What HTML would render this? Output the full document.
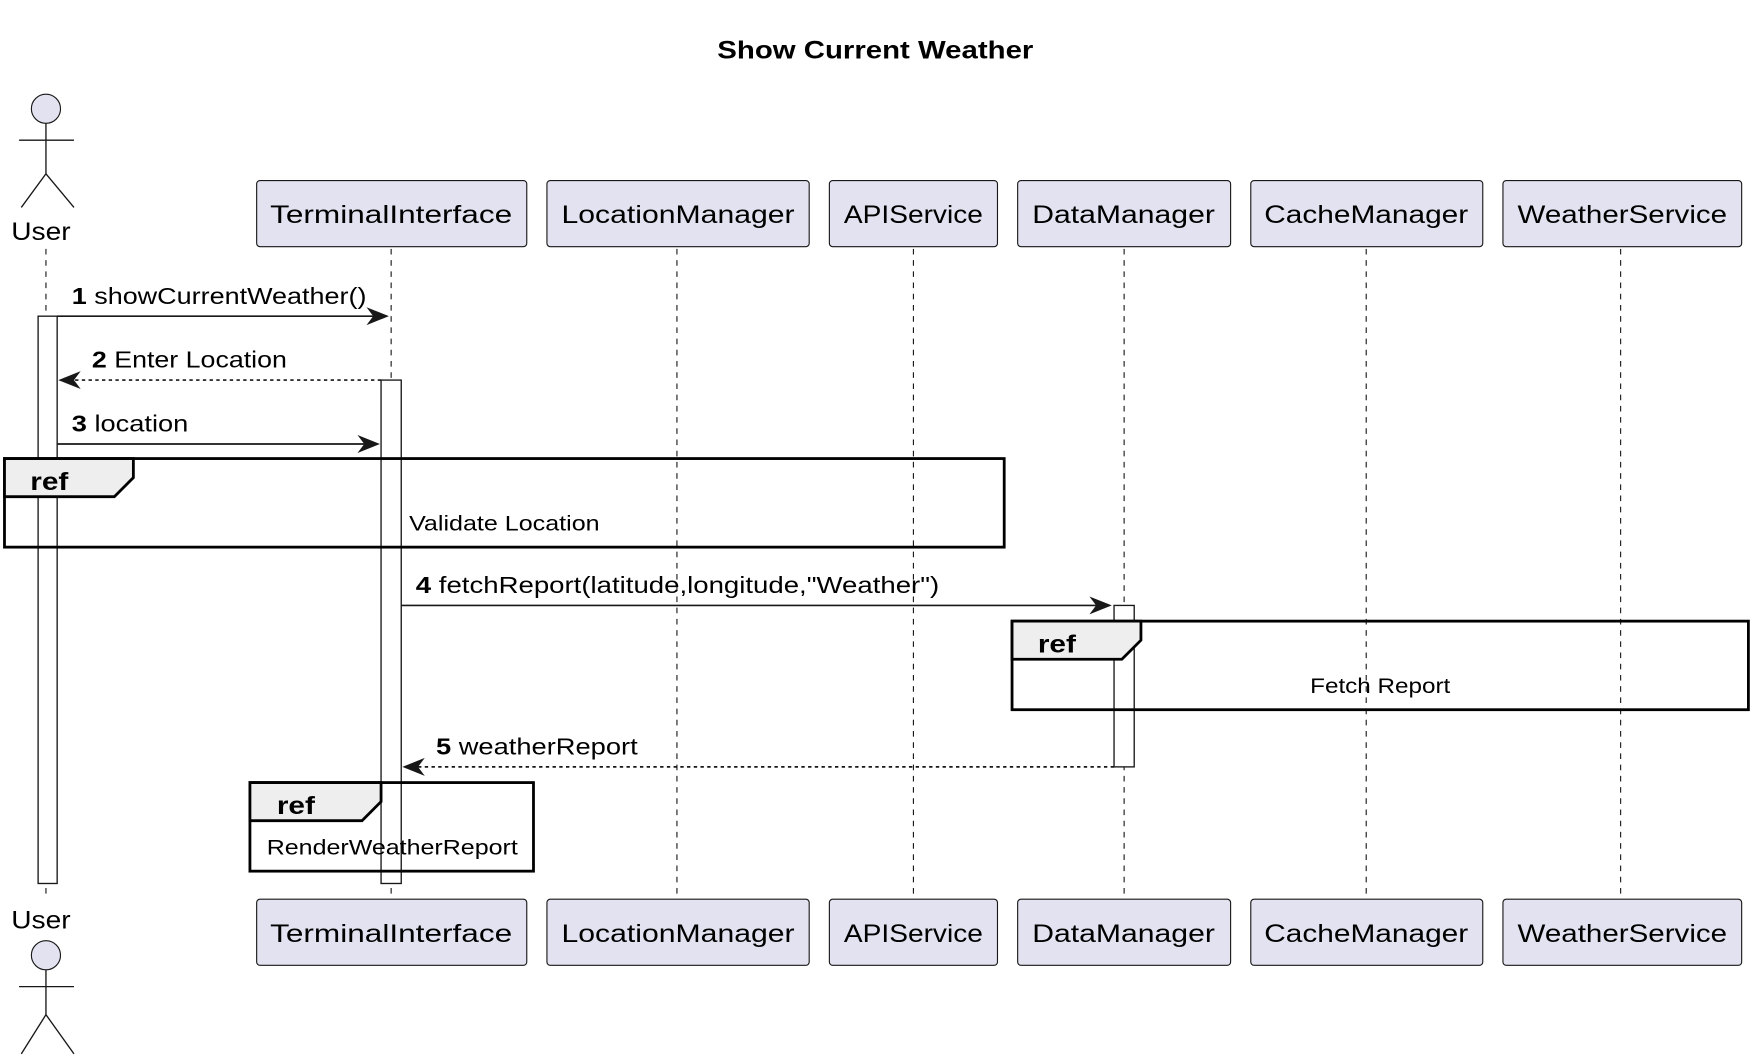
<!DOCTYPE html>
<html><head><meta charset="utf-8"><style>html,body{margin:0;padding:0;background:#fff}svg{display:block}text{font-family:"Liberation Sans","DejaVu Sans",sans-serif;fill:#000}</style></head>
<body>
<svg width="1754" height="1064" viewBox="0 0 1565 949" preserveAspectRatio="none" xmlns="http://www.w3.org/2000/svg">
<text x="640" y="52" font-size="22" font-weight="bold" textLength="282" lengthAdjust="spacingAndGlyphs">Show Current Weather</text>
<g stroke="#181818" stroke-width="1" stroke-dasharray="5,5">
<line x1="41" y1="222" x2="41" y2="800"/><line x1="349" y1="222" x2="349" y2="800"/><line x1="604" y1="222" x2="604" y2="800"/><line x1="815" y1="222" x2="815" y2="800"/><line x1="1003" y1="222" x2="1003" y2="800"/><line x1="1219" y1="222" x2="1219" y2="800"/><line x1="1446" y1="222" x2="1446" y2="800"/>
</g>
<g fill="#e2e2f0" stroke="#181818">
<circle cx="41" cy="97" r="13"/><circle cx="41" cy="852" r="13"/>
</g>
<g stroke="#181818" stroke-width="1.2" fill="none">
<path d="M41 110V155M17 125H66M41 155L19 185M41 155L66 185"/>
<path d="M41 865V905M17 880H66M41 905L19 940M41 905L66 940"/>
</g>
<text x="10" y="214" font-size="22" textLength="53" lengthAdjust="spacingAndGlyphs">User</text>
<text x="10" y="828" font-size="22" textLength="53" lengthAdjust="spacingAndGlyphs">User</text>
<g fill="#e2e2f0" stroke="#181818">
<rect x="229" y="161" width="241" height="59" rx="3"/><rect x="488" y="161" width="234" height="59" rx="3"/><rect x="740" y="161" width="150" height="59" rx="3"/><rect x="908" y="161" width="190" height="59" rx="3"/><rect x="1116" y="161" width="207" height="59" rx="3"/><rect x="1341" y="161" width="213" height="59" rx="3"/>
<rect x="229" y="802" width="241" height="59" rx="3"/><rect x="488" y="802" width="234" height="59" rx="3"/><rect x="740" y="802" width="150" height="59" rx="3"/><rect x="908" y="802" width="190" height="59" rx="3"/><rect x="1116" y="802" width="207" height="59" rx="3"/><rect x="1341" y="802" width="213" height="59" rx="3"/>
</g>
<g font-size="22" lengthAdjust="spacingAndGlyphs">
<text x="241" y="199" textLength="216" lengthAdjust="spacingAndGlyphs">TerminalInterface</text><text x="501" y="199" textLength="208" lengthAdjust="spacingAndGlyphs">LocationManager</text><text x="753" y="199" textLength="124" lengthAdjust="spacingAndGlyphs">APIService</text><text x="921" y="199" textLength="163" lengthAdjust="spacingAndGlyphs">DataManager</text><text x="1128" y="199" textLength="182" lengthAdjust="spacingAndGlyphs">CacheManager</text><text x="1354" y="199" textLength="187" lengthAdjust="spacingAndGlyphs">WeatherService</text>
<text x="241" y="840" textLength="216" lengthAdjust="spacingAndGlyphs">TerminalInterface</text><text x="501" y="840" textLength="208" lengthAdjust="spacingAndGlyphs">LocationManager</text><text x="753" y="840" textLength="124" lengthAdjust="spacingAndGlyphs">APIService</text><text x="921" y="840" textLength="163" lengthAdjust="spacingAndGlyphs">DataManager</text><text x="1128" y="840" textLength="182" lengthAdjust="spacingAndGlyphs">CacheManager</text><text x="1354" y="840" textLength="187" lengthAdjust="spacingAndGlyphs">WeatherService</text>
</g>
<g fill="#fff" stroke="#181818" stroke-width="1.2">
<rect x="34" y="282" width="17" height="506"/>
<rect x="340" y="339" width="18" height="449"/>
<rect x="994" y="540" width="18" height="144"/>
</g>
<g stroke="#181818" stroke-width="1.5" fill="none">
<line x1="51" y1="282" x2="345" y2="282"/>
<line x1="340" y1="339" x2="54" y2="339" stroke-dasharray="3,3"/>
<line x1="51" y1="396" x2="337" y2="396"/>
<line x1="358" y1="540" x2="990" y2="540"/>
<line x1="994" y1="684" x2="362" y2="684" stroke-dasharray="3,3"/>
</g>
<g fill="#181818">
<path d="M347 282L327 274L333 282L327 290Z"/>
<path d="M52 339L72 331L66 339L72 347Z"/>
<path d="M339 396L319 388L325 396L319 404Z"/>
<path d="M992 540L972 532L978 540L972 548Z"/>
<path d="M359 684L379 676L373 684L379 692Z"/>
</g>
<g font-size="21">
<text x="64" y="271" textLength="263" lengthAdjust="spacingAndGlyphs"><tspan font-weight="bold">1</tspan> showCurrentWeather()</text>
<text x="82" y="328" textLength="174" lengthAdjust="spacingAndGlyphs"><tspan font-weight="bold">2</tspan> Enter Location</text>
<text x="64" y="385" textLength="104" lengthAdjust="spacingAndGlyphs"><tspan font-weight="bold">3</tspan> location</text>
<text x="371" y="529" textLength="467" lengthAdjust="spacingAndGlyphs"><tspan font-weight="bold">4</tspan> fetchReport(latitude,longitude,"Weather")</text>
<text x="389" y="673" textLength="180" lengthAdjust="spacingAndGlyphs"><tspan font-weight="bold">5</tspan> weatherReport</text>
</g>
<g stroke="#000" stroke-width="2.5">
<rect x="4" y="409" width="892" height="79" fill="none"/>
<path d="M4 409H119V426L102 443H4Z" fill="#eeeeee"/>
<rect x="903" y="554" width="657" height="79" fill="none"/>
<path d="M903 554H1018V571L1001 588H903Z" fill="#eeeeee"/>
<rect x="223" y="698" width="253" height="79" fill="none"/>
<path d="M223 698H340V715L323 732H223Z" fill="#eeeeee"/>
</g>
<g font-size="22" font-weight="bold"><text x="27" y="437" textLength="34" lengthAdjust="spacingAndGlyphs">ref</text><text x="926" y="582" textLength="34" lengthAdjust="spacingAndGlyphs">ref</text><text x="247" y="726" textLength="34" lengthAdjust="spacingAndGlyphs">ref</text></g>
<g font-size="19">
<text x="365" y="473" textLength="170" lengthAdjust="spacingAndGlyphs">Validate Location</text>
<text x="1169" y="618" textLength="125" lengthAdjust="spacingAndGlyphs">Fetch Report</text>
<text x="238" y="762" textLength="224" lengthAdjust="spacingAndGlyphs">RenderWeatherReport</text>
</g>
</svg>
</body></html>
